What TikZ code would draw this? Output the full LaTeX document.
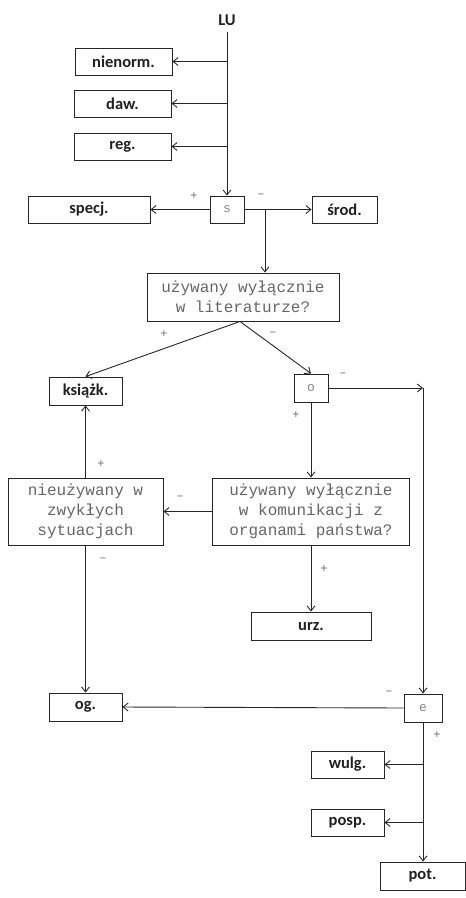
\documentclass[tikz,border=0pt]{standalone}
\usepackage{fontspec}
\setmainfont{Carlito}
\newfontfamily\monof{Liberation Mono}
\usetikzlibrary{arrows.meta}
\definecolor{lbl}{HTML}{202020}
\definecolor{mono}{HTML}{666666}
\definecolor{sgn}{HTML}{707070}
\tikzset{
  box/.style={draw=black!85, line width=0.9pt, inner sep=0pt, text=lbl,
    font=\fontsize{16.5}{18}\selectfont\bfseries},
  qbox/.style={draw=black!85, line width=0.9pt, inner sep=0pt, text=mono, align=center,
    font=\monof\fontsize{16}{20.5}\selectfont},
  sbox/.style={draw=black!85, line width=0.9pt, inner sep=0pt, text=mono!80,
    font=\monof\fontsize{13}{16}\selectfont, minimum width=34pt, minimum height=27pt},
  arr/.style={draw=black!85, line width=0.9pt, -{Straight Barb[length=5pt,width=8pt]}},
  sg/.style={text=sgn, font=\monof\fontsize{12}{12}\selectfont, inner sep=0pt}
}
\begin{document}
\begin{tikzpicture}[x=1pt,y=-1pt]
\useasboundingbox (0,0) rectangle (466,898);
\node[text=lbl, font=\fontsize{16.5}{18}\selectfont\bfseries, inner sep=0pt] (LU) at (227,20) {LU};
\node[box, minimum width=97pt, minimum height=27pt] (nienorm) at (123.5,61.5) {nienorm.};
\node[box, minimum width=97pt, minimum height=27pt] (daw) at (122.5,103.5) {daw.};
\node[box, minimum width=97pt, minimum height=27pt] (reg) at (122.5,146.5) {reg.};
\node[sbox] (s) at (227,209.5) {s};
\node[box, minimum width=122pt, minimum height=27pt] (specj) at (89,209.5) {specj.};
\node[box, minimum width=65pt, minimum height=27pt] (srod) at (344.5,209.5) {środ.};
\node[qbox, minimum width=192pt, minimum height=48pt] (q1) at (243,297) {używany wyłącznie\\w literaturze?};
\node[box, minimum width=73pt, minimum height=28pt] (ksiazk) at (85.5,391) {książk.};
\node[sbox, minimum height=28pt] (o) at (311,388) {o};
\node[qbox, minimum width=155pt, minimum height=67pt, font=\monof\fontsize{16}{20}\selectfont] (nieuz) at (85.5,511.5) {nieużywany w\\zwykłych\\sytuacjach};
\node[qbox, minimum width=197pt, minimum height=67pt, font=\monof\fontsize{16}{20}\selectfont] (q2) at (311,511.5) {używany wyłącznie\\w komunikacji z\\organami państwa?};
\node[box, minimum width=120pt, minimum height=28pt] (urz) at (311,626) {urz.};
\node[box, minimum width=73pt, minimum height=28pt] (og) at (85.5,707) {og.};
\node[sbox, minimum width=38pt, minimum height=28pt] (e) at (423,708) {e};
\node[box, minimum width=73pt, minimum height=27pt] (wulg) at (347.5,764.5) {wulg.};
\node[box, minimum width=73pt, minimum height=27pt] (posp) at (347.5,822.5) {posp.};
\node[box, minimum width=85pt, minimum height=28pt] (pot) at (422.5,876) {pot.};
\coordinate (j1) at (265,209.5);
\coordinate (c1) at (423,388);
% connectors
\draw[arr] (LU.south) ++(0,6) -- (s.north);
\draw[arr] (nienorm.east -| s.north) -- (nienorm.east);
\draw[arr] (daw.east -| s.north) -- (daw.east);
\draw[arr] (reg.east -| s.north) -- (reg.east);
\draw[arr] (s.west) -- (specj.east);
\draw[arr] (s.east) -- (srod.west);
\draw[arr] (j1) -- (j1 |- q1.north);
\draw[arr] ([xshift=-3pt]q1.south) -- (ksiazk.north);
\draw[arr] ([xshift=-3pt]q1.south) -- (o.north);
\draw[arr] (o.east) -- (c1);
\draw[arr] (c1) -- (e.north);
\draw[arr] (o.south) -- (q2.north);
\draw[arr] (q2.west) -- (nieuz.east);
\draw[arr] (nieuz.north) -- (ksiazk.south);
\draw[arr] (nieuz.south) -- (og.north);
\draw[arr] (q2.south) -- (urz.north);
\draw[arr] (e.west) -- (og.east);
\draw[arr] (e.south) -- (e.south |- pot.north);
\draw[arr] (wulg.east -| e.south) -- (wulg.east);
\draw[arr] (posp.east -| e.south) -- (posp.east);
% signs
\node[sg] (p1) at (194,196) {+};
\node[sg] (m1) at (261,196) {–};
\node[sg] (p2) at (164,334) {+};
\node[sg] (m2) at (273,334) {–};
\node[sg] (m3) at (343,375) {–};
\node[sg] (p3) at (296,415) {+};
\node[sg] (p4) at (101,464) {+};
\node[sg] (m4) at (180,498) {–};
\node[sg] (m5) at (103,560) {–};
\node[sg] (p5) at (324,569) {+};
\node[sg] (m6) at (389,693) {–};
\node[sg] (p6) at (437,735) {+};
\end{tikzpicture}
\end{document}
